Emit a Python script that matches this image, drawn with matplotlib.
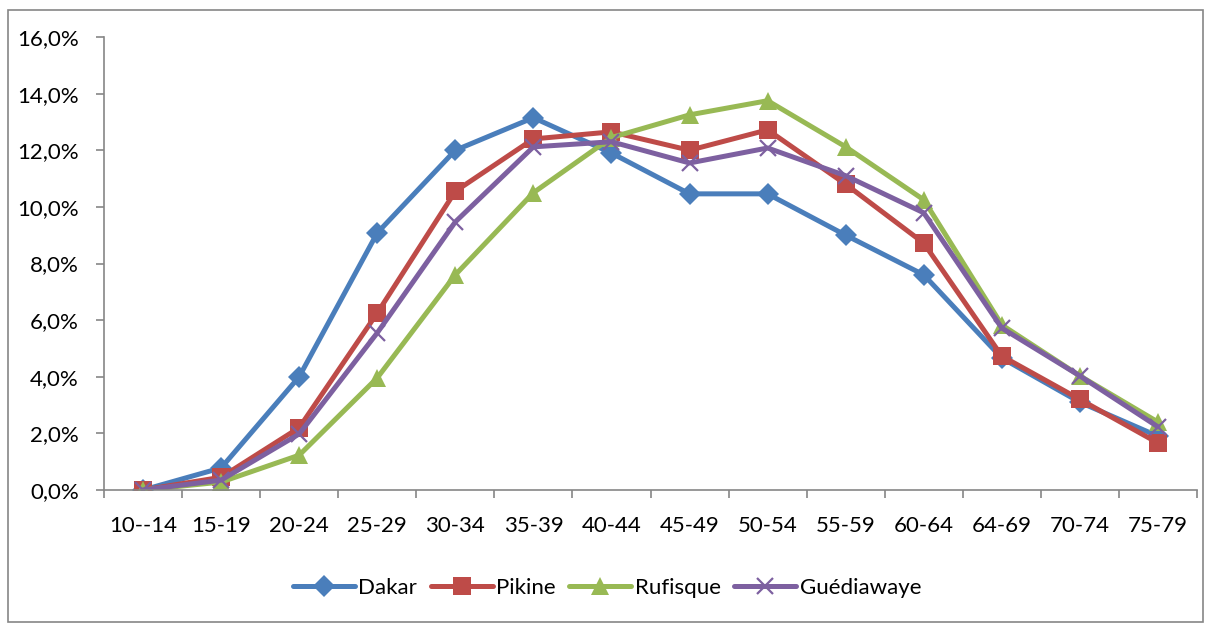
import matplotlib
matplotlib.use("Agg")
import matplotlib.pyplot as plt
from matplotlib.patches import Rectangle
from matplotlib.ticker import FuncFormatter, FixedLocator
import numpy as np

categories = ["10--14", "15-19", "20-24", "25-29", "30-34", "35-39", "40-44",
              "45-49", "50-54", "55-59", "60-64", "64-69", "70-74", "75-79"]
dakar = [0.0, 0.78, 4.0, 9.08, 12.0, 13.15, 11.9, 10.46, 10.46, 9.0, 7.6, 4.66, 3.1, 1.9]
pikine = [0.0, 0.45, 2.2, 6.25, 10.55, 12.4, 12.65, 12.0, 12.72, 10.8, 8.72, 4.73, 3.2, 1.66]
rufisque = [0.0, 0.28, 1.23, 3.96, 7.6, 10.5, 12.45, 13.25, 13.75, 12.12, 10.25, 5.83, 4.03, 2.4]
guediawaye = [0.0, 0.35, 1.98, 5.55, 9.47, 12.12, 12.3, 11.55, 12.08, 11.1, 9.79, 5.72, 4.03, 2.23]
series_names = ["Dakar", "Pikine", "Rufisque", "Guédiawaye"]
yticks = [0, 2, 4, 6, 8, 10, 12, 14, 16]

plt.rcParams['font.family'] = ['Lato', 'DejaVu Sans']

fig = plt.figure(figsize=(12.06, 6.26), dpi=100)
ax = fig.add_axes([104/1206, 1-490/626, (1197-104)/1206, (490-37)/626])

x = np.arange(len(categories))
styles = [
    (dakar, "#4A7EBB", "D", 11),
    (pikine, "#BE4B48", "s", 13),
    (rufisque, "#98B954", "^", 13),
    (guediawaye, "#7D60A0", "x", 12),
]
for (vals, col, mk, ms), name in zip(styles, series_names):
    kw = dict(markeredgewidth=1.6) if mk == "x" else dict(markeredgewidth=0)
    ax.plot(x, vals, color=col, lw=3.6, marker=mk, ms=ms, label=name,
            markerfacecolor=col, markeredgecolor=col, solid_joinstyle='round',
            solid_capstyle='round', **kw)

ax.set_xlim(-0.5, len(categories) - 0.5)
ax.set_ylim(0, 16)
ax.set_yticks(yticks)
ax.yaxis.set_major_formatter(FuncFormatter(lambda v, p: f"{v:.1f}%".replace(".", ",")))
ax.set_xticks(x)
ax.set_xticklabels(categories)
ax.xaxis.set_minor_locator(FixedLocator(np.arange(-0.5, len(categories), 1.0)))
ax.tick_params(axis='x', which='major', length=0, pad=19, labelsize=16)
ax.tick_params(axis='x', which='minor', length=6, color='#868686', width=1.2, direction='out')
ax.tick_params(axis='y', length=6, color='#868686', width=1.2, direction='out', labelsize=16, pad=12)
for s in ['top', 'right']:
    ax.spines[s].set_visible(False)
for s in ['left', 'bottom']:
    ax.spines[s].set_color('#868686')
    ax.spines[s].set_linewidth(1.2)

leg = fig.legend(loc='center', bbox_to_anchor=(607/1206, 1-588/626), ncol=4,
                 frameon=False, fontsize=16, handlelength=2.8, handletextpad=0.15,
                 columnspacing=0.6)

fig.patches.append(Rectangle((8/1206, 1-622/626), (1203-8)/1206, (622-10)/626,
                             transform=fig.transFigure, fill=False,
                             edgecolor='#868686', lw=1.2))
fig.savefig("out.png", dpi=100)
